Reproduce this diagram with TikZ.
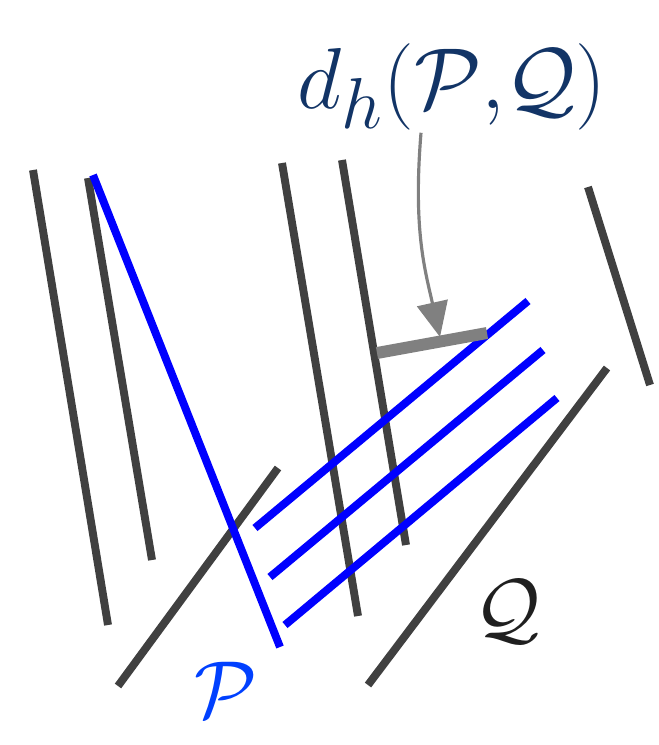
\documentclass[tikz,border=0pt]{standalone}
\usepackage{amsmath,amssymb}
\usepackage{xcolor}
\usetikzlibrary{arrows.meta}
\definecolor{segdark}{RGB}{64,64,64}
\definecolor{segblue}{RGB}{0,0,255}
\definecolor{lblblue}{RGB}{0,64,255}
\definecolor{lblnavy}{RGB}{18,52,102}
\definecolor{bargray}{RGB}{128,128,128}

\begin{document}
\begin{tikzpicture}[x=0.02cm,y=-0.02cm,
    qseg/.style={line width=4.5pt,segdark},
    pseg/.style={line width=4.5pt,segblue},
    bigtext/.style={font=\Huge,scale=1.85,inner sep=0pt}]
    \useasboundingbox (0,0) rectangle (659,745);
    % segments of Q
    \draw[qseg] (33,170) -- (108,625);
    \draw[qseg] (88,178) -- (152,560);
    \draw[qseg] (282,163) -- (358,616);
    \draw[qseg] (342,160) -- (406,545);
    \draw[qseg] (588,187) -- (650,385);
    \draw[qseg] (118,686) -- (278,468);
    \draw[qseg] (368,685) -- (607,368);
    % segments of P
    \draw[pseg] (93,175) -- (280,647);
    \draw[pseg] (255,528) -- (528,301);
    \draw[pseg] (270,577) -- (543,350);
    \draw[pseg] (285,625) -- (557,398);
    % distance bar
    \coordinate (barL) at (377,353);
    \coordinate (barR) at (487,333);
    \coordinate (foot) at (440,337);
    \draw[line width=6.8pt,bargray] (barL) -- (barR);
    % labels
    \node[bigtext,scale=1.07,lblnavy,anchor=base] (dist) at (452,108) {$d_h(\mathcal{P}{,}\mathcal{Q})$};
    \node[bigtext,lblblue] (lblP) at (226,690) {$\mathcal{P}$};
    \node[bigtext,black!88] (lblQ) at (508,612) {$\mathcal{Q}$};
    % arrow to the bar
    \draw[-{Triangle[width=0.62cm,length=0.7cm]},line width=1.8pt,bargray]
      ([xshift=-0.62cm,yshift=-0.05cm]dist.south) .. controls (413,230) and (425,270) .. (foot);
\end{tikzpicture}
\end{document}
